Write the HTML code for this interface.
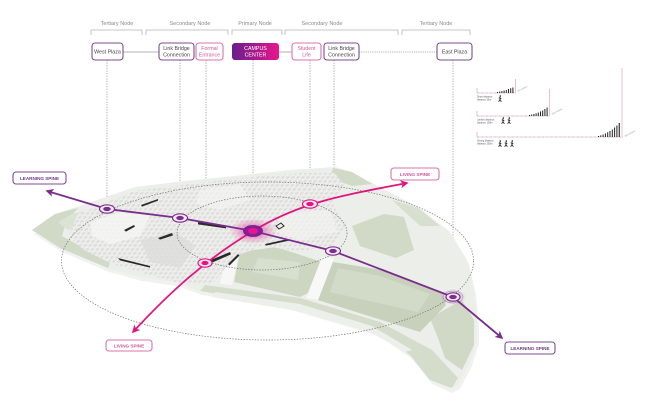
<!DOCTYPE html>
<html><head><meta charset="utf-8"><style>
html,body{margin:0;padding:0;background:#fff;}
svg{display:block;font-family:"Liberation Sans",Arial,sans-serif;}
</style></head><body>
<svg width="649" height="405" viewBox="0 0 649 405" xmlns="http://www.w3.org/2000/svg">
<defs>
 <linearGradient id="cc" x1="0" x2="1" y1="0" y2="0"><stop offset="0" stop-color="#6a1d8c"/><stop offset="1" stop-color="#e8168c"/></linearGradient>
 <radialGradient id="glow"><stop offset="0" stop-color="#e0158a" stop-opacity=".75"/><stop offset="0.6" stop-color="#e0158a" stop-opacity=".25"/><stop offset="1" stop-color="#e0158a" stop-opacity="0"/></radialGradient>
 <radialGradient id="glowp"><stop offset="0" stop-color="#7b2d8e" stop-opacity=".4"/><stop offset="1" stop-color="#7b2d8e" stop-opacity="0"/></radialGradient>
 <marker id="ap" viewBox="0 0 10 10" refX="8" refY="5" markerWidth="9" markerHeight="8" markerUnits="userSpaceOnUse" orient="auto-start-reverse"><path d="M0,0L10,5L0,10L2.5,5z" fill="#7b2d8e"/></marker>
 <marker id="am" viewBox="0 0 10 10" refX="8" refY="5" markerWidth="9" markerHeight="8" markerUnits="userSpaceOnUse" orient="auto-start-reverse"><path d="M0,0L10,5L0,10L2.5,5z" fill="#e0157f"/></marker>
 <pattern id="tex" width="5" height="4" patternUnits="userSpaceOnUse" patternTransform="skewX(-35)">
  <rect width="5" height="4" fill="#eeeeec"/>
  <rect x="0.5" y="0.5" width="3" height="1.2" fill="#d3d4d1"/>
  <rect x="1" y="2.4" width="2.5" height="0.8" fill="#dddedb"/>
 </pattern>
</defs>

<!-- ===== header ===== -->
<g font-size="5.5" fill="#8a8a8a" text-anchor="middle">
 <text x="117" y="25">Tertiary Node</text>
 <text x="190" y="25">Secondary Node</text>
 <text x="255" y="25">Primary Node</text>
 <text x="322" y="25">Secondary Node</text>
 <text x="436" y="25">Tertiary Node</text>
</g>
<g fill="none" stroke="#b5b5b5" stroke-width="0.8">
 <path d="M91,35V30H142V35"/>
 <path d="M146,35V30H228V35"/>
 <path d="M232,35V30H282V35"/>
 <path d="M285,35V30H398V35"/>
 <path d="M402,35V30H470V35"/>
</g>
<g stroke="#9a9a9a" stroke-width="0.8">
 <line x1="123" y1="52" x2="159" y2="52"/>
 <line x1="279" y1="52" x2="292" y2="52"/>
 <line x1="359" y1="52" x2="437" y2="52" stroke-dasharray="1.2 1"/>
</g>
<g stroke="#8a8a8a" stroke-width="0.7" stroke-dasharray="1.3 1.3">
 <line x1="107" y1="60" x2="107" y2="205"/>
 <line x1="180" y1="60" x2="180" y2="214"/>
 <line x1="206" y1="60" x2="206" y2="259"/>
 <line x1="253" y1="60" x2="253" y2="226"/>
 <line x1="310" y1="60" x2="310" y2="201"/>
 <line x1="334" y1="60" x2="334" y2="247"/>
 <line x1="453" y1="60" x2="453" y2="293"/>
</g>
<g stroke-width="1.1" fill="#fff">
 <rect x="92" y="43" width="31" height="17" rx="3" stroke="#7d4d8f"/>
 <rect x="159" y="43" width="35" height="17" rx="3" stroke="#7d4d8f"/>
 <rect x="196" y="43" width="27" height="17" rx="3" stroke="#d874aa"/>
 <rect x="232" y="43" width="47" height="17" rx="3" fill="url(#cc)" stroke="none"/>
 <rect x="292" y="43" width="29" height="17" rx="3" stroke="#d874aa"/>
 <rect x="324" y="43" width="35" height="17" rx="3" stroke="#7d4d8f"/>
 <rect x="437" y="43" width="35" height="17" rx="3" stroke="#7d4d8f"/>
</g>
<g font-size="5.3" text-anchor="middle" fill="#444">
 <text x="107.5" y="53.5">West Plaza</text>
 <text x="176.5" y="50">Link Bridge</text>
 <text x="176.5" y="56.5">Connection</text>
 <text x="209.5" y="50" fill="#d0579a">Formal</text>
 <text x="209.5" y="56.5" fill="#d0579a">Entrance</text>
 <text x="255.5" y="50" fill="#fff">CAMPUS</text>
 <text x="255.5" y="56.5" fill="#fff">CENTER</text>
 <text x="306.5" y="50" fill="#d0579a">Student</text>
 <text x="306.5" y="56.5" fill="#d0579a">Life</text>
 <text x="341.5" y="50">Link Bridge</text>
 <text x="341.5" y="56.5">Connection</text>
 <text x="454.5" y="53.5">East Plaza</text>
</g>

<!-- ===== legend ===== -->
<g>
 <line x1="515.5" y1="79" x2="515.5" y2="93" stroke="#e6a3c4" stroke-width="0.7"/>
 <line x1="477" y1="93" x2="515" y2="93" stroke="#c79ab6" stroke-width="0.9" stroke-dasharray="0.7 0.6"/>
 <line x1="477" y1="88" x2="477" y2="93" stroke="#c79ab6" stroke-width="0.6"/>
 <g fill="#222">
  <rect x="497" y="92" width="1" height="1"/><rect x="499.2" y="91.5" width="1" height="1.5"/><rect x="501.4" y="91" width="1" height="2"/><rect x="503.6" y="90.5" width="1" height="2.5"/><rect x="505.8" y="90" width="1" height="3"/><rect x="508" y="89" width="1" height="4"/><rect x="510.2" y="88.3" width="1" height="4.7"/><rect x="512.4" y="87.5" width="1" height="5.5"/>
 </g>
 <text x="518" y="92" font-size="2.4" fill="#999" transform="rotate(-28 518 92)">50 meters</text>
 <text x="477" y="97.5" font-size="2.4" fill="#555">Short distance</text>
 <text x="477" y="100.5" font-size="2.4" fill="#555">distance 50m</text>
 <line x1="549.5" y1="89" x2="549.5" y2="116" stroke="#e6a3c4" stroke-width="0.7"/>
 <line x1="477" y1="116" x2="549" y2="116" stroke="#c79ab6" stroke-width="0.9" stroke-dasharray="0.7 0.6"/>
 <line x1="477" y1="111" x2="477" y2="116" stroke="#c79ab6" stroke-width="0.6"/>
 <g fill="#222">
  <rect x="529" y="115" width="1" height="1"/><rect x="531.2" y="114.5" width="1" height="1.5"/><rect x="533.4" y="114" width="1" height="2"/><rect x="535.6" y="113.3" width="1" height="2.7"/><rect x="537.8" y="112.5" width="1" height="3.5"/><rect x="540" y="111.5" width="1" height="4.5"/><rect x="542.2" y="110.5" width="1" height="5.5"/><rect x="544.4" y="109" width="1" height="7"/><rect x="546.6" y="107.5" width="1" height="8.5"/>
 </g>
 <text x="552" y="115" font-size="2.4" fill="#999" transform="rotate(-28 552 115)">100 meters</text>
 <text x="477" y="120.5" font-size="2.4" fill="#555">Limited distance</text>
 <text x="477" y="123.5" font-size="2.4" fill="#555">distance 100m</text>
 <line x1="622" y1="68" x2="622" y2="138" stroke="#e6a3c4" stroke-width="0.7"/>
 <line x1="477" y1="137" x2="621" y2="137" stroke="#c79ab6" stroke-width="0.9" stroke-dasharray="0.7 0.6"/>
 <line x1="477" y1="132" x2="477" y2="137" stroke="#c79ab6" stroke-width="0.6"/>
 <g fill="#222">
  <rect x="598" y="136" width="1" height="1"/><rect x="600.3" y="135.3" width="1" height="1.7"/><rect x="602.6" y="134.5" width="1" height="2.5"/><rect x="604.9" y="133.5" width="1" height="3.5"/><rect x="607.2" y="132.3" width="1" height="4.7"/><rect x="609.5" y="131" width="1" height="6"/><rect x="611.8" y="129.5" width="1" height="7.5"/><rect x="614.1" y="127.5" width="1" height="9.5"/><rect x="616.4" y="125.5" width="1" height="11.5"/><rect x="618.7" y="123" width="1.1" height="14"/>
 </g>
 <text x="625" y="137" font-size="2.4" fill="#999" transform="rotate(-28 625 137)">200 meters</text>
 <text x="477" y="141.5" font-size="2.4" fill="#555">Strong distance</text>
 <text x="477" y="144.5" font-size="2.4" fill="#555">distance 200m</text>
 <g stroke="#222" stroke-width="0.8" fill="#222" stroke-linecap="round">
  <g transform="translate(500,99)"><circle cx="0.3" cy="-3" r="0.8" stroke="none"/><path d="M0,-2L0,0.5M0,0.5L-1.2,2.5M0,0.5L1.2,2.5M-1,-1L1,-0.5" fill="none"/></g>
  <g transform="translate(503,121)"><circle cx="0.3" cy="-3" r="0.8" stroke="none"/><path d="M0,-2L0,0.5M0,0.5L-1.2,2.5M0,0.5L1.2,2.5M-1,-1L1,-0.5" fill="none"/></g>
  <g transform="translate(509,121)"><circle cx="0.3" cy="-3" r="0.8" stroke="none"/><path d="M0,-2L0,0.5M0,0.5L-1.2,2.5M0,0.5L1.2,2.5M-1,-1L1,-0.5" fill="none"/></g>
  <g transform="translate(500,144)"><circle cx="0.3" cy="-3" r="0.8" stroke="none"/><path d="M0,-2L0,0.5M0,0.5L-1.2,2.5M0,0.5L1.2,2.5M-1,-1L1,-0.5" fill="none"/></g>
  <g transform="translate(506,144)"><circle cx="0.3" cy="-3" r="0.8" stroke="none"/><path d="M0,-2L0,0.5M0,0.5L-1.2,2.5M0,0.5L1.2,2.5M-1,-1L1,-0.5" fill="none"/></g>
  <g transform="translate(512,144)"><circle cx="0.3" cy="-3" r="0.8" stroke="none"/><path d="M0,-2L0,0.5M0,0.5L-1.2,2.5M0,0.5L1.2,2.5M-1,-1L1,-0.5" fill="none"/></g>
 </g>
</g>

<!-- ===== site plan ===== -->
<g>
 <polygon points="32,231 55,215 97,201 135,188 185,182 235,177 290,171 335,168 352,173 385,191 418,208 450,233 467,261 474,291 477,321 477,341 470,363 458,386 450,390 430,381 410,356 377,333 330,319 293,308 250,299 200,292 175,283 140,278 107,269 60,249" fill="#f1f2f0" transform="translate(2,3)"/>
 <polygon points="32,230 55,214 97,200 135,187 185,181 235,176 290,170 335,167 352,172 385,190 418,207 450,232 467,260 474,290 477,320 477,340 470,362 458,385 450,389 430,380 410,355 377,332 330,318 293,307 250,298 200,291 175,282 140,277 107,268 60,248" fill="#eceee9"/>
 <polygon points="32,230 55,214 78,208 66,222 62,236 80,246 112,258 108,268 60,248" fill="#d0dac6"/>
 <polygon points="58,222 72,214 90,210 80,224 68,230" fill="#dbe3d4"/>
 <polygon points="205,285 300,298 380,322 432,350 458,378 452,388 430,380 410,355 377,332 293,307 200,291" fill="#d4ddcb"/>
 <polygon points="215,292 300,304 372,326 412,350 405,352 370,332 298,311 212,297" fill="#edefea"/>
 <polygon points="430,318 462,300 474,320 474,345 462,370 445,358 438,338" fill="#cfd9c5"/>
 <polygon points="240,252 276,247 322,262 308,293 300,297 234,282" fill="#ccd6c1"/>
 <polygon points="258,258 300,262 298,280 252,272" fill="#d7dfcf"/>
 <polygon points="333,262 382,270 442,292 446,305 420,332 318,300" fill="#c7d1bc"/>
 <polygon points="338,268 380,276 430,294 418,312 330,292" fill="#d2dbc8"/>
 <polygon points="352,226 384,214 404,217 414,250 396,258 360,246" fill="#d0dac6"/>
 <polygon points="333,168 352,172 372,184 352,186 330,178" fill="#d0dac6"/>
 <polygon points="392,200 418,208 440,226 420,226" fill="#d7dfcf"/>
 <polygon points="322,257 334,258 318,300 306,298" fill="#f8f8f6"/>
 <polygon points="228,250 240,250 232,285 220,284" fill="#f7f7f5"/>
 <polygon points="78,214 135,191 232,179 300,173 335,173 345,187 332,202 346,228 332,246 300,251 262,246 236,256 212,284 180,283 150,275 112,264 84,250 68,236" fill="url(#tex)"/>
 <polygon points="90,222 120,212 150,216 140,236 110,244 92,236" fill="#f4f4f2" opacity="0.85"/>
 <polygon points="200,190 240,184 250,200 220,210 196,204" fill="#f4f4f2" opacity="0.7"/>
 <polygon points="280,214 330,210 338,232 300,240 276,232" fill="#f2f2f0" opacity="0.7"/>
 <polygon points="140,240 175,232 196,246 180,268 150,262" fill="#dcddda" opacity="0.8"/>
 <g fill="#2a2a2a">
  <polygon points="141,205 158,199 158,200.6 142,206.6"/>
  <polygon points="198,222 226,226 226,228.4 198,224.4"/>
  <polygon points="124,230 134,225 135,226.6 126,231.6"/>
  <polygon points="158,238 172,233 173,235.4 160,239.6"/>
  <polygon points="118,258 150,266 150,267.6 120,260.4"/>
  <polygon points="206,262 230,252 231,254.4 208,264.4"/>
  <polygon points="265,244 288,239 289,240.6 266,245.6"/>
  <polygon points="228,264 238,254 239.5,255.5 229.5,265.5"/>
  <polygon points="276,226 281,223 284,226 279,229" fill="none" stroke="#2a2a2a" stroke-width="1"/>
 </g>
</g>

<g fill="none" stroke="#6f6f6f" stroke-width="0.7" stroke-dasharray="1.4 1.4">
 <ellipse cx="267.5" cy="261" rx="206" ry="79"/>
 <ellipse cx="262" cy="233" rx="85" ry="37"/>
</g>

<ellipse cx="253" cy="231" rx="24" ry="13" fill="url(#glow)"/>
<ellipse cx="453" cy="297" rx="13" ry="8" fill="url(#glowp)"/>

<polyline points="47,191 107,209 180,218 253,231 333,251 453,297 502,338" fill="none" stroke="#7b2d8e" stroke-width="1.8" marker-start="url(#ap)" marker-end="url(#ap)"/>
<path d="M133,332 C170,292 205,260 253,231 S340,196 407,183" fill="none" stroke="#e0157f" stroke-width="1.8" marker-start="url(#am)" marker-end="url(#am)"/>

<g stroke-width="1.2">
 <g stroke="#7b2d8e">
  <ellipse cx="107" cy="209" rx="7.5" ry="4.2" fill="#f3e9f5"/>
  <ellipse cx="107" cy="209" rx="3.8" ry="2.1" fill="#7b2d8e" stroke="none"/>
  <ellipse cx="180" cy="218" rx="7.5" ry="4.2" fill="#f3e9f5"/>
  <ellipse cx="180" cy="218" rx="3.8" ry="2.1" fill="#7b2d8e" stroke="none"/>
  <ellipse cx="333" cy="251" rx="7.5" ry="4.2" fill="#f3e9f5"/>
  <ellipse cx="333" cy="251" rx="3.8" ry="2.1" fill="#7b2d8e" stroke="none"/>
  <ellipse cx="453" cy="297" rx="10" ry="6" fill="none" stroke-width="0.5" opacity="0.6"/>
  <ellipse cx="453" cy="297" rx="7" ry="4.2" fill="#f3e9f5"/>
  <ellipse cx="453" cy="297" rx="3.8" ry="2.1" fill="#7b2d8e" stroke="none"/>
 </g>
 <g stroke="#e0157f">
  <ellipse cx="310" cy="204" rx="7.5" ry="4.2" fill="#fbe6f1"/>
  <ellipse cx="310" cy="204" rx="3.8" ry="2.1" fill="#e0157f" stroke="none"/>
  <ellipse cx="205" cy="263" rx="7" ry="4.2" fill="#fbe6f1"/>
  <ellipse cx="205" cy="263" rx="3.6" ry="2.1" fill="#e0157f" stroke="none"/>
 </g>
 <ellipse cx="253" cy="231" rx="9.5" ry="5.5" fill="#8a1d9c" stroke="#6a1d8c" stroke-width="0.8"/>
 <ellipse cx="253" cy="231" rx="5" ry="3" fill="#e8168c"/>
</g>

<g stroke-width="1.1" fill="#fff">
 <rect x="13" y="172" width="53" height="12" rx="3" stroke="#7d4d8f"/>
 <rect x="505" y="342" width="50" height="12" rx="3" stroke="#7d4d8f"/>
 <rect x="391" y="168" width="48" height="12" rx="3" stroke="#d874aa"/>
 <rect x="106" y="340" width="46" height="11" rx="3" stroke="#d874aa"/>
</g>
<g font-size="4.6" font-weight="bold" text-anchor="middle">
 <text x="39.5" y="179.8" fill="#6e3a83">LEARNING SPINE</text>
 <text x="530" y="349.8" fill="#6e3a83">LEARNING SPINE</text>
 <text x="415" y="175.8" fill="#d0579a">LIVING SPINE</text>
 <text x="129" y="347.3" fill="#d0579a">LIVING SPINE</text>
</g>
</svg>
</body></html>
